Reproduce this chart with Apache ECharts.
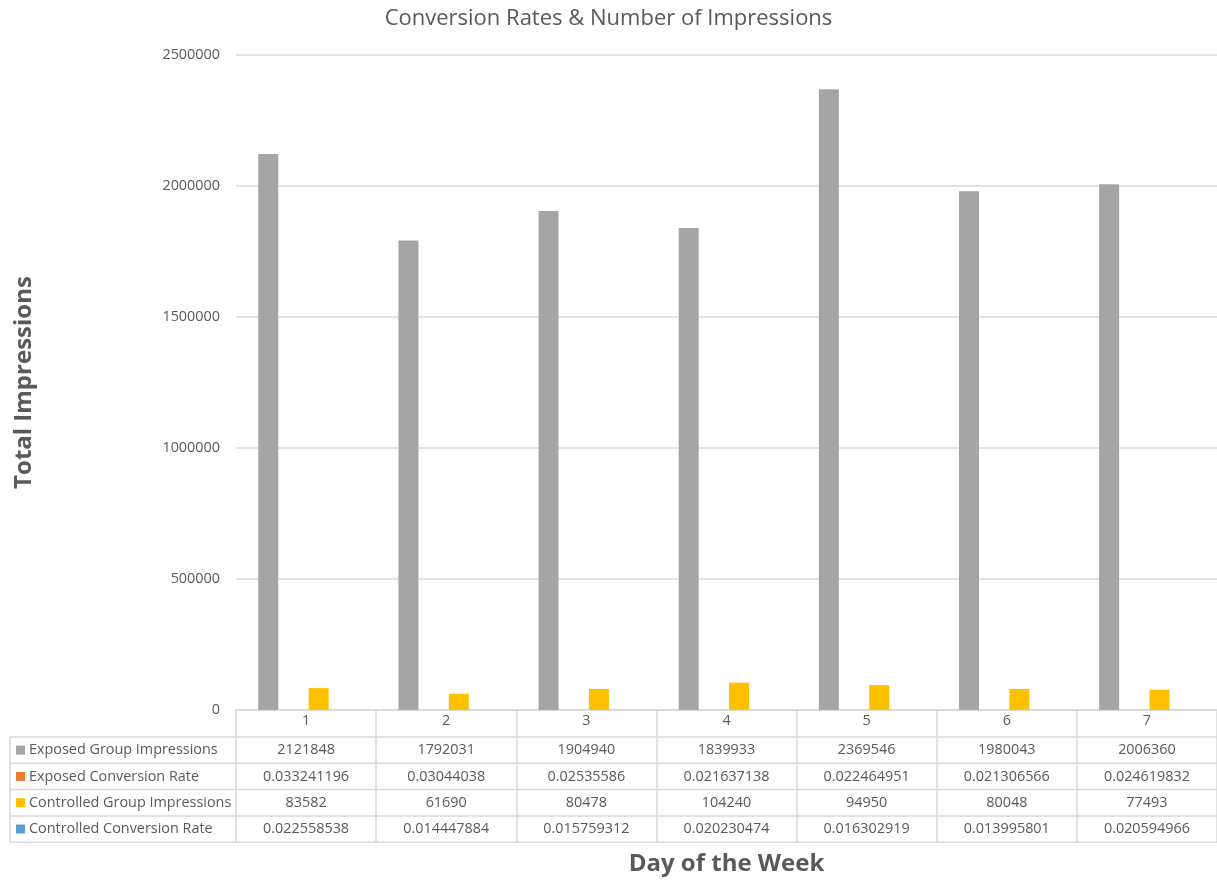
<!DOCTYPE html>
<html>
<head>
<meta charset="utf-8">
<script src="https://cdn.jsdelivr.net/npm/echarts@6/dist/echarts.min.js"></script>
<style>
  html, body { margin: 0; padding: 0; background: #fff; }
  #chart { width: 1217px; height: 882px; }
</style>
</head>
<body>
<div id="chart"></div>
<script>
// Day of the week categories
var days = ['1', '2', '3', '4', '5', '6', '7'];

// Series names and values
var seriesNames = [
  'Exposed Group Impressions',
  'Exposed Conversion Rate',
  'Controlled Group Impressions',
  'Controlled Conversion Rate'
];
var exposedImpressions = [2121848, 1792031, 1904940, 1839933, 2369546, 1980043, 2006360];
var exposedConversion = [0.033241196, 0.03044038, 0.02535586, 0.021637138, 0.022464951, 0.021306566, 0.024619832];
var controlledImpressions = [83582, 61690, 80478, 104240, 94950, 80048, 77493];
var controlledConversion = [0.022558538, 0.014447884, 0.015759312, 0.020230474, 0.016302919, 0.013995801, 0.020594966];

// Y axis ticks
var yMin = 0, yMax = 2500000, yStep = 500000;

var seriesColors = ['#A5A5A5', '#ED7D31', '#FFC000', '#5B9BD5'];
var seriesData = [exposedImpressions, exposedConversion, controlledImpressions, controlledConversion];

var FONT = '"Open Sans", sans-serif';
var TXT = '#595959';
var LINE = '#D9D9D9';
var SMALL = 14.4;

var chart = echarts.init(document.getElementById('chart'));

var grid = { left: 236, right: 0, top: 55, bottom: 172 };
var rowTop = 737, rowH = 26.3;

chart.setOption({
  animation: false,
  textStyle: { fontFamily: FONT },
  title: {
    text: 'Conversion Rates & Number of Impressions',
    left: 'center',
    top: 3,
    textStyle: { fontFamily: FONT, fontSize: 22, fontWeight: 'normal', color: TXT }
  },
  grid: grid,
  xAxis: {
    type: 'category',
    data: days,
    name: 'Day of the Week',
    nameLocation: 'middle',
    nameGap: 142,
    nameTextStyle: { fontFamily: FONT, fontSize: 24, fontWeight: 'bold', color: TXT },
    axisLine: { lineStyle: { color: LINE, width: 1.5 } },
    axisTick: { show: true, length: 132, interval: 0, lineStyle: { color: LINE, width: 1.5 } },
    axisLabel: { margin: 4, fontSize: SMALL, color: TXT, fontFamily: FONT }
  },
  yAxis: {
    type: 'value',
    min: yMin,
    max: yMax,
    interval: yStep,
    name: 'Total Impressions',
    nameLocation: 'middle',
    nameGap: 200,
    nameRotate: 90,
    nameTextStyle: { fontFamily: FONT, fontSize: 24, fontWeight: 'bold', color: TXT },
    axisLine: { show: false },
    axisTick: { show: false },
    axisLabel: {
      margin: 16, fontSize: SMALL, color: TXT, fontFamily: FONT,
      formatter: function (v) { return String(v); }
    },
    splitLine: { lineStyle: { color: LINE, width: 1.5 } }
  },
  series: seriesNames.map(function (name, i) {
    return {
      name: name,
      type: 'bar',
      data: seriesData[i],
      barWidth: 20,
      barGap: '26%',
      itemStyle: { color: seriesColors[i] }
    };
  })
});

// Data table beneath the axis: row labels with legend keys, values per day
function buildTable() {
  var els = [];
  var right = 1217;
  var nRows = seriesNames.length;
  for (var r = 0; r <= nRows; r++) {
    var y = rowTop + r * rowH;
    els.push({ type: 'line', shape: { x1: 10, y1: y, x2: right, y2: y },
      style: { stroke: LINE, lineWidth: 1.5 } });
  }
  els.push({ type: 'line', shape: { x1: 10, y1: rowTop, x2: 10, y2: rowTop + nRows * rowH },
    style: { stroke: LINE, lineWidth: 1.5 } });
  for (var s = 0; s < nRows; s++) {
    var cy = rowTop + (s + 0.5) * rowH;
    els.push({ type: 'rect', shape: { x: 16, y: cy - 4.5, width: 9, height: 9 },
      style: { fill: seriesColors[s] } });
    els.push({ type: 'text', x: 29, y: cy,
      style: { text: seriesNames[s], fill: TXT, font: SMALL + 'px ' + FONT, verticalAlign: 'middle', align: 'left' } });
    for (var d = 0; d < days.length; d++) {
      var cx = chart.convertToPixel({ xAxisIndex: 0 }, d);
      els.push({ type: 'text', x: cx, y: cy,
        style: { text: String(seriesData[s][d]), fill: TXT, font: SMALL + 'px ' + FONT, verticalAlign: 'middle', align: 'center' } });
    }
  }
  chart.setOption({ graphic: { elements: els } });
}
buildTable();
</script>
</body>
</html>
